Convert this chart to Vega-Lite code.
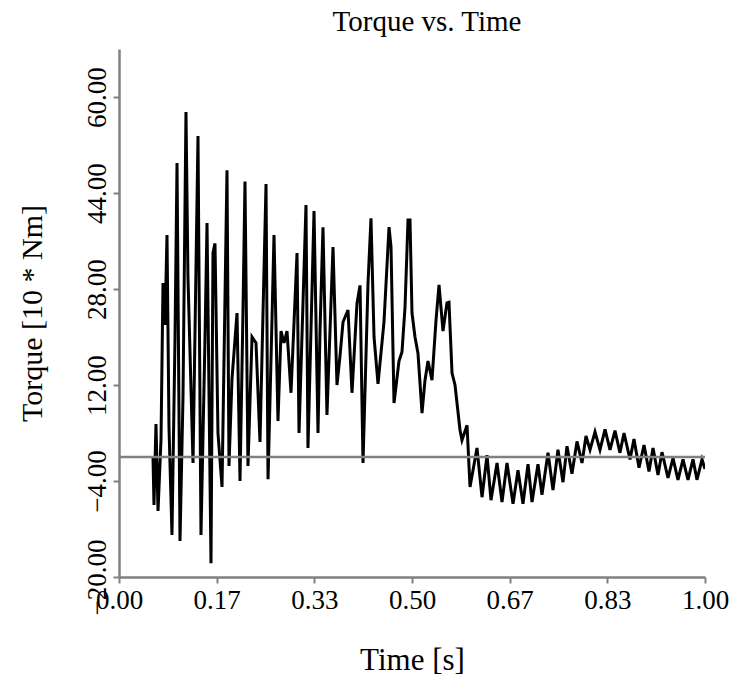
{
  "$schema": "https://vega.github.io/schema/vega-lite/v6.json",
  "width": 586,
  "height": 528,
  "autosize": "none",
  "padding": {"left": 119, "top": 49, "right": 31, "bottom": 109},
  "background": "white",
  "config": {
    "view": {"stroke": null},
    "font": "Liberation Serif"
  },
  "title": {
    "text": "Torque vs. Time",
    "font": "Liberation Serif",
    "fontSize": 29,
    "fontWeight": "normal",
    "color": "black",
    "offset": 12,
    "dx": 15
  },
  "datasets": {
    "torque": [
      {"t": 0.0580, "v": 0},
      {"t": 0.0597, "v": -8},
      {"t": 0.0631, "v": 5.5},
      {"t": 0.0666, "v": -9},
      {"t": 0.0717, "v": 3},
      {"t": 0.0751, "v": 29},
      {"t": 0.0785, "v": 22},
      {"t": 0.0819, "v": 37},
      {"t": 0.0853, "v": 5},
      {"t": 0.0904, "v": -13},
      {"t": 0.0956, "v": 20},
      {"t": 0.0990, "v": 49},
      {"t": 0.1041, "v": -14},
      {"t": 0.1092, "v": 10},
      {"t": 0.1143, "v": 57.5},
      {"t": 0.1177, "v": 30},
      {"t": 0.1263, "v": -1},
      {"t": 0.1348, "v": 53.5},
      {"t": 0.1399, "v": -13},
      {"t": 0.1468, "v": 20},
      {"t": 0.1502, "v": 39},
      {"t": 0.1570, "v": -17.7},
      {"t": 0.1604, "v": 34},
      {"t": 0.1638, "v": 35.6},
      {"t": 0.1689, "v": 4},
      {"t": 0.1758, "v": -5},
      {"t": 0.1843, "v": 47.8},
      {"t": 0.1877, "v": -1.5},
      {"t": 0.1928, "v": 13},
      {"t": 0.2014, "v": 24},
      {"t": 0.2065, "v": -4},
      {"t": 0.2116, "v": 24.5},
      {"t": 0.2150, "v": 45.9},
      {"t": 0.2201, "v": -1.5},
      {"t": 0.2270, "v": 20},
      {"t": 0.2338, "v": 19},
      {"t": 0.2406, "v": 2.5},
      {"t": 0.2509, "v": 45.5},
      {"t": 0.2543, "v": -3.7},
      {"t": 0.2611, "v": 23},
      {"t": 0.2645, "v": 37},
      {"t": 0.2713, "v": 6},
      {"t": 0.2765, "v": 21},
      {"t": 0.2816, "v": 19},
      {"t": 0.2867, "v": 21},
      {"t": 0.2935, "v": 10.7},
      {"t": 0.3038, "v": 34},
      {"t": 0.3072, "v": 4},
      {"t": 0.3191, "v": 42},
      {"t": 0.3225, "v": 1.5},
      {"t": 0.3328, "v": 41},
      {"t": 0.3396, "v": 4},
      {"t": 0.3430, "v": 21},
      {"t": 0.3481, "v": 38.3},
      {"t": 0.3549, "v": 7},
      {"t": 0.3652, "v": 35},
      {"t": 0.3720, "v": 12},
      {"t": 0.3771, "v": 16.8},
      {"t": 0.3823, "v": 22.5},
      {"t": 0.3908, "v": 24.5},
      {"t": 0.3976, "v": 10.7},
      {"t": 0.4061, "v": 25.6},
      {"t": 0.4113, "v": 28.6},
      {"t": 0.4164, "v": -1},
      {"t": 0.4249, "v": 28.9},
      {"t": 0.4300, "v": 39.8},
      {"t": 0.4352, "v": 20},
      {"t": 0.4420, "v": 12.2},
      {"t": 0.4522, "v": 22.5},
      {"t": 0.4608, "v": 38.3},
      {"t": 0.4642, "v": 35},
      {"t": 0.4693, "v": 9},
      {"t": 0.4778, "v": 16},
      {"t": 0.4829, "v": 17.5},
      {"t": 0.4881, "v": 25},
      {"t": 0.4932, "v": 39.5},
      {"t": 0.4966, "v": 39.5},
      {"t": 0.5000, "v": 24},
      {"t": 0.5051, "v": 20},
      {"t": 0.5102, "v": 17.3},
      {"t": 0.5171, "v": 7.3},
      {"t": 0.5222, "v": 12.8},
      {"t": 0.5273, "v": 16},
      {"t": 0.5341, "v": 12.8},
      {"t": 0.5410, "v": 22.8},
      {"t": 0.5461, "v": 28.7},
      {"t": 0.5529, "v": 21},
      {"t": 0.5597, "v": 25.7},
      {"t": 0.5631, "v": 25.8},
      {"t": 0.5683, "v": 14},
      {"t": 0.5734, "v": 12},
      {"t": 0.5819, "v": 4.5},
      {"t": 0.5853, "v": 2.8},
      {"t": 0.5939, "v": 5.3},
      {"t": 0.5990, "v": -5},
      {"t": 0.6109, "v": 1.5},
      {"t": 0.6195, "v": -6.7},
      {"t": 0.6280, "v": 0.3},
      {"t": 0.6348, "v": -7.2},
      {"t": 0.6451, "v": -1},
      {"t": 0.6536, "v": -7.5},
      {"t": 0.6621, "v": -1},
      {"t": 0.6724, "v": -7.8},
      {"t": 0.6809, "v": -2.2},
      {"t": 0.6894, "v": -7.8},
      {"t": 0.6980, "v": -1.2},
      {"t": 0.7048, "v": -7.5},
      {"t": 0.7150, "v": -1.2},
      {"t": 0.7218, "v": -6.3},
      {"t": 0.7321, "v": 0.7},
      {"t": 0.7406, "v": -5.5},
      {"t": 0.7491, "v": 1.2},
      {"t": 0.7577, "v": -4.2},
      {"t": 0.7645, "v": 1.8},
      {"t": 0.7730, "v": -2.8},
      {"t": 0.7816, "v": 2.6},
      {"t": 0.7901, "v": -1},
      {"t": 0.7969, "v": 3.5},
      {"t": 0.8038, "v": 1.2},
      {"t": 0.8123, "v": 4.2},
      {"t": 0.8208, "v": 1.2},
      {"t": 0.8294, "v": 4.6},
      {"t": 0.8379, "v": 1.2},
      {"t": 0.8464, "v": 4.4},
      {"t": 0.8549, "v": 0.7},
      {"t": 0.8618, "v": 4},
      {"t": 0.8720, "v": -0.4},
      {"t": 0.8788, "v": 3},
      {"t": 0.8874, "v": -1.8},
      {"t": 0.8959, "v": 2},
      {"t": 0.9044, "v": -2.4},
      {"t": 0.9113, "v": 1.5},
      {"t": 0.9198, "v": -3},
      {"t": 0.9266, "v": 0.8},
      {"t": 0.9369, "v": -3.5},
      {"t": 0.9454, "v": -0.2},
      {"t": 0.9539, "v": -3.8},
      {"t": 0.9625, "v": -0.4},
      {"t": 0.9710, "v": -3.8},
      {"t": 0.9795, "v": -0.4},
      {"t": 0.9863, "v": -3.8},
      {"t": 0.9949, "v": -0.4},
      {"t": 1.0, "v": -2}
    ],
    "zero": [{"x0": 0, "x1": 1, "y": 0}]
  },
  "layer": [
    {
      "data": {"name": "torque"},
      "mark": {"type": "line", "color": "black", "strokeWidth": 3, "clip": true},
      "encoding": {
        "x": {
          "field": "t",
          "type": "quantitative",
          "scale": {"domain": [0, 1], "nice": false, "zero": false},
          "axis": {
            "title": "Time [s]",
            "values": [0, 0.166667, 0.333333, 0.5, 0.666667, 0.833333, 1],
            "format": ".2f",
            "grid": false,
            "domainColor": "#808080",
            "domainWidth": 2.5,
            "tickColor": "#808080",
            "tickWidth": 2,
            "tickSize": 6,
            "labelFont": "Liberation Serif",
            "labelFontSize": 27,
            "labelColor": "black",
            "labelPadding": 4,
            "labelFlush": false,
            "labelOverlap": false,
            "titleFont": "Liberation Serif",
            "titleFontSize": 31,
            "titleFontWeight": "normal",
            "titleColor": "black",
            "titlePadding": 32
          }
        },
        "y": {
          "field": "v",
          "type": "quantitative",
          "scale": {"domain": [-20, 68], "nice": false, "zero": false},
          "axis": {
            "title": "Torque [10 * Nm]",
            "values": [-20, -4, 12, 28, 44, 60],
            "format": ".2f",
            "grid": false,
            "domainColor": "#808080",
            "domainWidth": 2.5,
            "tickColor": "#808080",
            "tickWidth": 2,
            "tickSize": 6,
            "labelFont": "Liberation Serif",
            "labelFontSize": 27,
            "labelColor": "black",
            "labelAngle": 270,
            "labelAlign": "center",
            "labelBaseline": "bottom",
            "labelPadding": 2,
            "labelFlush": false,
            "labelOverlap": false,
            "titleFont": "Liberation Serif",
            "titleFontSize": 30,
            "titleFontWeight": "normal",
            "titleColor": "black",
            "titlePadding": 36
          }
        }
      }
    },
    {
      "data": {"name": "zero"},
      "mark": {"type": "rule", "color": "#808080", "strokeWidth": 2.5},
      "encoding": {
        "x": {"field": "x0", "type": "quantitative"},
        "x2": {"field": "x1"},
        "y": {"field": "y", "type": "quantitative"}
      }
    }
  ]
}
